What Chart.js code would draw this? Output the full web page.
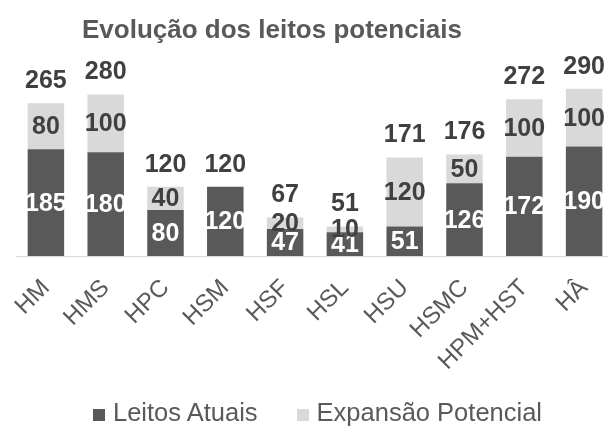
<!DOCTYPE html>
<html lang="pt-BR">
<head>
<meta charset="utf-8">
<title>Evolução dos leitos potenciais</title>
<script src="https://cdn.jsdelivr.net/npm/chart.js@4.4.1/dist/chart.umd.min.js"></script>
<style>
  html, body { margin: 0; padding: 0; background: #fff; overflow: hidden; }
  .wrap { position: relative; width: 608px; height: 426px; overflow: hidden; }
  .titulo {
    position: absolute; left: 82px; top: 16px;
    font: bold 26px/26px "Liberation Sans", Arial, sans-serif;
    color: #595959; white-space: nowrap;
  }
  canvas { position: absolute; left: 0; top: 0; }
  .legenda {
    position: absolute; left: 93px; top: 400px;
    display: flex; white-space: nowrap;
    font: 25.5px/25px "Liberation Sans", Arial, sans-serif; color: #595959;
  }
  .legenda .item { margin-right: 39px; }
  .legenda .caixa {
    display: inline-block; width: 12px; height: 12px; margin-right: 8px;
    vertical-align: baseline;
  }
</style>
</head>
<body>
<div class="wrap">
  <canvas id="leitosChart" width="616" height="426"></canvas>
  <div class="titulo">Evolução dos leitos potenciais</div>
  <div class="legenda" id="legenda"></div>
</div>
<script>
  // === Dados ===
  const hospitais = ["HM", "HMS", "HPC", "HSM", "HSF", "HSL", "HSU", "HSMC", "HPM+HST", "HÂ"];
  const leitosAtuais = [185, 180, 80, 120, 47, 41, 51, 126, 172, 190];
  const expansao = [80, 100, 40, 0, 20, 10, 120, 50, 100, 100];
  const escalaMax = 340;

  const fonte = "'Liberation Sans', Arial, sans-serif";
  const corRotulo = ["#ffffff", "#404040"];

  // valores dentro de cada segmento + total acima da pilha
  const rotulosValores = {
    id: "rotulosValores",
    afterDatasetsDraw(chart) {
      const ctx = chart.ctx;
      ctx.save();
      ctx.font = "bold 25px " + fonte;
      ctx.textAlign = "center";
      ctx.textBaseline = "middle";
      chart.data.datasets.forEach((ds, i) => {
        chart.getDatasetMeta(i).data.forEach((bar, j) => {
          const v = ds.data[j];
          if (!v) return;
          ctx.fillStyle = corRotulo[i];
          ctx.fillText(v, bar.x, (bar.y + bar.base) / 2 + 1);
        });
      });
      ctx.fillStyle = "#404040";
      hospitais.forEach((h, j) => {
        const topo = Math.min(...chart.data.datasets.map((ds, i) => chart.getDatasetMeta(i).data[j].y));
        const x = chart.getDatasetMeta(0).data[j].x;
        ctx.fillText(leitosAtuais[j] + expansao[j], x, topo - 22);
      });
      ctx.restore();
    }
  };

  const grafico = new Chart(document.getElementById("leitosChart"), {
    type: "bar",
    data: {
      labels: hospitais,
      datasets: [
        { label: "Leitos Atuais", data: leitosAtuais, backgroundColor: "#595959",
          borderWidth: 0, barPercentage: 1, categoryPercentage: 0.61 },
        { label: "Expansão Potencial", data: expansao, backgroundColor: "#d9d9d9",
          borderWidth: 0, barPercentage: 1, categoryPercentage: 0.61 }
      ]
    },
    options: {
      responsive: false,
      animation: false,
      layout: { padding: { left: 16, right: 2, top: 60, bottom: 20 } },
      scales: {
        x: {
          stacked: true,
          grid: { display: false },
          border: { color: "#d9d9d9", width: 1 },
          ticks: {
            color: "#595959", autoSkip: false, minRotation: 45, maxRotation: 45,
            padding: 10,
            font: { family: fonte, size: 24 }
          },
          afterFit(scale) { scale.height = 150; }
        },
        y: { stacked: true, display: false, min: 0, max: escalaMax }
      },
      plugins: {
        legend: { display: false },
        tooltip: { enabled: false }
      }
    },
    plugins: [rotulosValores]
  });

  // === Legenda (gerada dos datasets) ===
  const legendaEl = document.getElementById("legenda");
  grafico.data.datasets.forEach(ds => {
    const item = document.createElement("span");
    item.className = "item";
    const caixa = document.createElement("span");
    caixa.className = "caixa";
    caixa.style.background = ds.backgroundColor;
    item.appendChild(caixa);
    item.appendChild(document.createTextNode(ds.label));
    legendaEl.appendChild(item);
  });
</script>
</body>
</html>
